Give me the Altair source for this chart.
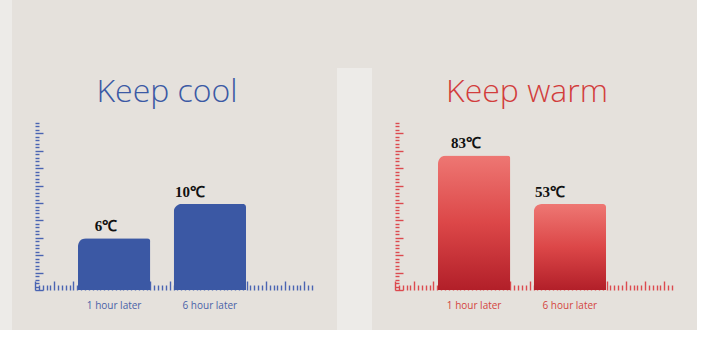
import altair as alt
import pandas as pd

# ---- data ----
titles = ["Keep cool", "Keep warm"]
categories = ["1 hour later", "6 hour later"]
cool_values = [6, 10]
warm_values = [83, 53]
cool_labels = ["6℃", "10℃"]
warm_labels = ["83℃", "53℃"]
cool_ymax = 19.4
warm_ymax = 103
ruler_x_max = 72
ruler_y_max = 48

PANEL_W, PANEL_H = 325, 330
BASE = 290
TOP = 123
GAP = 35


def panel(title, values, labels, ymax, title_color, bar_fill, tick_color, label_color, cover_gap):
    df = pd.DataFrame({"when": categories, "value": values, "label": labels})

    def yscale():
        return alt.Scale(domain=[0, ymax], range=[BASE, TOP], nice=False, zero=True)

    def xscale():
        return alt.Scale(domain=categories, range=[66, 234], paddingInner=0.245, paddingOuter=0)

    base = alt.Chart(df)
    bars = base.mark_bar(fill=bar_fill, cornerRadiusTopLeft=8, cornerRadiusTopRight=3).encode(
        x=alt.X("when:N", scale=xscale(), sort=categories,
                axis=alt.Axis(orient="bottom", offset=-(PANEL_H - BASE), ticks=False, domain=False,
                              labelPadding=10, labelColor=label_color, labelFont="Open Sans",
                              labelFontSize=10, labelAngle=0, title=None, grid=False)),
        y=alt.Y("value:Q", scale=yscale(), axis=None),
    )
    texts = base.mark_text(font="Liberation Serif", fontWeight="bold", fontSize=15, color="#111111",
                           baseline="bottom", dx=-14, dy=-4).encode(
        x=alt.X("when:N", scale=xscale(), sort=categories, axis=None),
        y=alt.Y("value:Q", scale=yscale(), axis=None),
        text="label:N",
    )
    dummy = pd.DataFrame({"r": [0]})
    ruler_x = alt.Chart(dummy).mark_point(opacity=0).encode(
        x=alt.X("r:Q", scale=alt.Scale(domain=[0, ruler_x_max], range=[23, 300], nice=False),
                axis=alt.Axis(orient="top", offset=-BASE, values=list(range(0, ruler_x_max + 1)),
                              labels=False, domain=False, grid=False, title=None,
                              tickColor=tick_color, tickWidth=1.4,
                              tickSize={"condition": {"test": "datum.value % 5 === 0", "value": 9}, "value": 5})),
        y=alt.value(BASE),
    )
    ruler_y = alt.Chart(dummy).mark_point(opacity=0).encode(
        y=alt.Y("r:Q", scale=alt.Scale(domain=[0, ruler_y_max], range=[BASE, TOP], nice=False),
                axis=alt.Axis(orient="right", offset=-(PANEL_W - 23), values=list(range(0, ruler_y_max + 1)),
                              labels=False, domain=False, grid=False, title=None,
                              tickColor=tick_color, tickWidth=1.4,
                              tickSize={"condition": {"test": "datum.value % 5 === 0", "value": 8}, "value": 4})),
        x=alt.value(23),
    )
    ttl = alt.Chart(pd.DataFrame({"t": [title]})).mark_text(
        font="Open Sans", fontSize=32, fontWeight=300, color=title_color, align="center", baseline="alphabetic"
    ).encode(text="t:N", x=alt.value(155), y=alt.value(102))
    layers = [bars, ruler_x, ruler_y, texts, ttl]
    if cover_gap:
        cover = alt.Chart(pd.DataFrame({"c": [0]})).mark_rect(color="#e5e1dc").encode(
            x=alt.value(PANEL_W), x2=alt.value(PANEL_W + GAP), y=alt.value(0), y2=alt.value(68))
        layers = [cover] + layers
    return alt.layer(*layers).resolve_scale(x="independent", y="independent").properties(
        width=PANEL_W, height=PANEL_H)


blue = "#3b58a4"
red_grad = alt.Gradient(
    gradient="linear", x1=0, y1=0, x2=0, y2=1,
    stops=[alt.GradientStop(offset=0, color="#ee7773"),
           alt.GradientStop(offset=0.5, color="#dc4748"),
           alt.GradientStop(offset=1, color="#b21f29")],
)

left = panel(titles[0], cool_values, cool_labels, cool_ymax,
             "#3b59a4", blue, "#4a64b2", "#4a62a8", True)
right = panel(titles[1], warm_values, warm_labels, warm_ymax,
              "#d23d3c", red_grad, "#dc4a4f", "#d4453f", False)

chart = alt.hconcat(left, right, spacing=GAP, bounds="flush").properties(
    padding={"left": 12, "top": 0, "right": 0, "bottom": 0},
    background="#edebe8",
).configure_view(fill="#e5e1dc", strokeWidth=0)

chart.save("out.html", embed_options={"renderer": "svg", "actions": False})
